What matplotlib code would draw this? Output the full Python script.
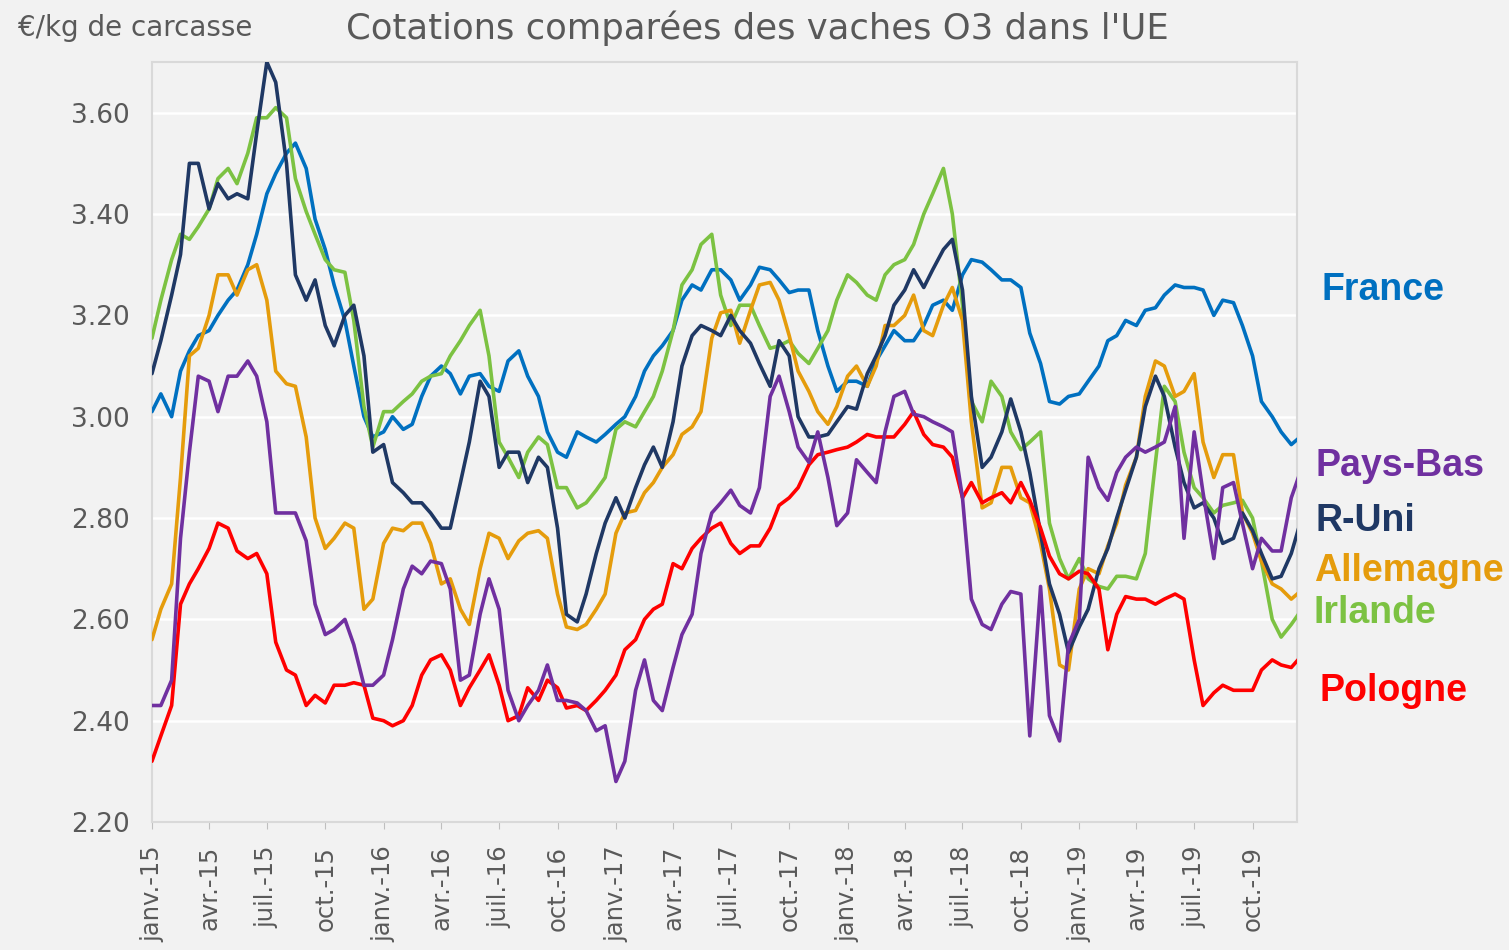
import matplotlib
matplotlib.use("Agg")
import matplotlib.pyplot as plt
import pandas as pd

# Semi-monthly observations, janv. 2015 -> déc. 2019 (EUR/kg carcasse)
dates = pd.date_range("2015-01-01", "2019-12-15", freq="SMS")

france = [3.01, 3.045, 3.00, 3.09, 3.13, 3.16, 3.17, 3.20, 3.23, 3.25, 3.30, 3.36,
          3.44, 3.48, 3.52, 3.54, 3.49, 3.39, 3.33, 3.26, 3.19, 3.10, 3.00, 2.96,
          2.97, 3.00, 2.975, 2.985, 3.04, 3.08, 3.10, 3.085, 3.045, 3.08, 3.085, 3.06,
          3.05, 3.11, 3.13, 3.08, 3.04, 2.97, 2.93, 2.92, 2.97, 2.96, 2.95, 2.965,
          2.985, 3.00, 3.04, 3.09, 3.12, 3.14, 3.17, 3.23, 3.26, 3.25, 3.29, 3.29,
          3.27, 3.23, 3.26, 3.295, 3.29, 3.27, 3.245, 3.25, 3.25, 3.17, 3.10, 3.05,
          3.07, 3.07, 3.06, 3.11, 3.14, 3.17, 3.15, 3.15, 3.18, 3.22, 3.23, 3.21,
          3.28, 3.31, 3.305, 3.29, 3.27, 3.27, 3.255, 3.165, 3.105, 3.03, 3.025, 3.04,
          3.045, 3.07, 3.10, 3.15, 3.16, 3.19, 3.18, 3.21, 3.215, 3.24, 3.26, 3.255,
          3.255, 3.25, 3.20, 3.23, 3.225, 3.18, 3.12, 3.03, 3.00, 2.97, 2.945, 2.96]

r_uni = [3.085, 3.15, 3.24, 3.32, 3.50, 3.50, 3.41, 3.46, 3.43, 3.44, 3.43, 3.56,
         3.70, 3.66, 3.50, 3.28, 3.23, 3.27, 3.18, 3.14, 3.20, 3.22, 3.12, 2.93,
         2.945, 2.87, 2.85, 2.83, 2.83, 2.81, 2.78, 2.78, 2.87, 2.95, 3.07, 3.04,
         2.90, 2.93, 2.93, 2.87, 2.92, 2.90, 2.78, 2.61, 2.595, 2.65, 2.73, 2.79,
         2.84, 2.80, 2.86, 2.905, 2.94, 2.90, 2.99, 3.10, 3.16, 3.18, 3.17, 3.16,
         3.20, 3.17, 3.145, 3.105, 3.06, 3.15, 3.12, 3.00, 2.96, 2.96, 2.965, 2.99,
         3.02, 3.015, 3.085, 3.12, 3.16, 3.22, 3.25, 3.29, 3.255, 3.29, 3.33, 3.35,
         3.25, 3.04, 2.90, 2.92, 2.97, 3.035, 2.97, 2.89, 2.77, 2.67, 2.61, 2.535,
         2.585, 2.62, 2.70, 2.74, 2.80, 2.855, 2.92, 3.02, 3.08, 3.04, 2.94, 2.87,
         2.82, 2.83, 2.80, 2.75, 2.76, 2.81, 2.775, 2.73, 2.68, 2.685, 2.73, 2.79]

irlande = [3.155, 3.23, 3.31, 3.36, 3.35, 3.375, 3.41, 3.47, 3.49, 3.46, 3.52, 3.59,
           3.59, 3.61, 3.59, 3.47, 3.405, 3.36, 3.31, 3.29, 3.285, 3.19, 3.02, 2.94,
           3.01, 3.01, 3.03, 3.045, 3.07, 3.08, 3.085, 3.12, 3.15, 3.18, 3.21, 3.12,
           2.95, 2.92, 2.88, 2.93, 2.96, 2.945, 2.86, 2.86, 2.82, 2.83, 2.855, 2.88,
           2.975, 2.99, 2.98, 3.01, 3.04, 3.09, 3.17, 3.26, 3.29, 3.34, 3.36, 3.24,
           3.18, 3.22, 3.22, 3.18, 3.135, 3.14, 3.15, 3.125, 3.105, 3.135, 3.17, 3.23,
           3.28, 3.265, 3.24, 3.23, 3.28, 3.30, 3.31, 3.34, 3.40, 3.44, 3.49, 3.40,
           3.22, 3.03, 2.99, 3.07, 3.04, 2.97, 2.935, 2.95, 2.97, 2.79, 2.72, 2.68,
           2.72, 2.68, 2.665, 2.66, 2.685, 2.685, 2.68, 2.73, 2.91, 3.06, 3.03, 2.93,
           2.86, 2.84, 2.81, 2.825, 2.83, 2.835, 2.80, 2.715, 2.60, 2.565, 2.59, 2.615]

allemagne = [2.56, 2.62, 2.67, 2.88, 3.12, 3.135, 3.20, 3.28, 3.28, 3.24, 3.29, 3.30,
             3.23, 3.09, 3.065, 3.06, 2.96, 2.80, 2.74, 2.76, 2.79, 2.78, 2.62, 2.64,
             2.75, 2.78, 2.775, 2.79, 2.79, 2.75, 2.67, 2.68, 2.62, 2.59, 2.70, 2.77,
             2.76, 2.72, 2.755, 2.77, 2.775, 2.76, 2.65, 2.585, 2.58, 2.59, 2.62, 2.65,
             2.77, 2.81, 2.815, 2.85, 2.87, 2.90, 2.925, 2.965, 2.98, 3.01, 3.155, 3.205,
             3.21, 3.145, 3.21, 3.26, 3.265, 3.23, 3.16, 3.09, 3.05, 3.01, 2.985, 3.02,
             3.08, 3.10, 3.06, 3.10, 3.18, 3.18, 3.20, 3.24, 3.17, 3.16, 3.22, 3.255,
             3.19, 2.99, 2.82, 2.83, 2.90, 2.90, 2.84, 2.83, 2.75, 2.66, 2.51, 2.50,
             2.66, 2.70, 2.69, 2.745, 2.79, 2.865, 2.92, 3.04, 3.11, 3.10, 3.04, 3.05,
             3.085, 2.95, 2.88, 2.925, 2.925, 2.81, 2.77, 2.715, 2.67, 2.66, 2.64, 2.655]

pays_bas = [2.43, 2.43, 2.48, 2.76, 2.93, 3.08, 3.07, 3.01, 3.08, 3.08, 3.11, 3.08,
            2.99, 2.81, 2.81, 2.81, 2.755, 2.63, 2.57, 2.58, 2.60, 2.55, 2.47, 2.47,
            2.49, 2.56, 2.66, 2.705, 2.69, 2.715, 2.71, 2.66, 2.48, 2.49, 2.61, 2.68,
            2.62, 2.46, 2.40, 2.43, 2.46, 2.51, 2.44, 2.44, 2.435, 2.42, 2.38, 2.39,
            2.28, 2.32, 2.46, 2.52, 2.44, 2.42, 2.505, 2.57, 2.61, 2.73, 2.81, 2.83,
            2.855, 2.825, 2.81, 2.86, 3.04, 3.08, 3.01, 2.94, 2.91, 2.97, 2.88, 2.785,
            2.81, 2.915, 2.89, 2.87, 2.97, 3.04, 3.05, 3.005, 3.00, 2.99, 2.98, 2.97,
            2.84, 2.64, 2.59, 2.58, 2.63, 2.655, 2.65, 2.37, 2.665, 2.41, 2.36, 2.55,
            2.60, 2.92, 2.86, 2.835, 2.89, 2.92, 2.94, 2.93, 2.94, 2.95, 3.02, 2.76,
            2.97, 2.85, 2.72, 2.86, 2.87, 2.79, 2.70, 2.76, 2.735, 2.735, 2.84, 2.89]

pologne = [2.32, 2.37, 2.43, 2.63, 2.67, 2.70, 2.74, 2.79, 2.78, 2.735, 2.72, 2.73,
           2.69, 2.555, 2.50, 2.49, 2.43, 2.45, 2.435, 2.47, 2.47, 2.475, 2.47, 2.405,
           2.40, 2.39, 2.40, 2.43, 2.49, 2.52, 2.53, 2.50, 2.43, 2.465, 2.50, 2.53,
           2.47, 2.40, 2.41, 2.465, 2.44, 2.48, 2.465, 2.425, 2.43, 2.42, 2.44, 2.46,
           2.49, 2.54, 2.56, 2.60, 2.62, 2.63, 2.71, 2.70, 2.74, 2.76, 2.78, 2.79,
           2.75, 2.73, 2.745, 2.745, 2.78, 2.825, 2.84, 2.86, 2.905, 2.925, 2.93, 2.935,
           2.94, 2.95, 2.965, 2.96, 2.96, 2.96, 2.985, 3.01, 2.965, 2.945, 2.94, 2.92,
           2.84, 2.87, 2.83, 2.84, 2.85, 2.83, 2.87, 2.835, 2.78, 2.725, 2.69, 2.68,
           2.695, 2.69, 2.66, 2.54, 2.61, 2.645, 2.64, 2.64, 2.63, 2.64, 2.65, 2.64,
           2.52, 2.43, 2.455, 2.47, 2.46, 2.46, 2.46, 2.50, 2.52, 2.51, 2.505, 2.525]

series_names = ["France", "Pays-Bas", "R-Uni", "Allemagne", "Irlande", "Pologne"]
series_values = [france, pays_bas, r_uni, allemagne, irlande, pologne]
series_colors = ["#0070C0", "#7030A0", "#1F3864", "#E59C0C", "#7CC242", "#FF0000"]

tick_dates = pd.date_range("2015-01-01", "2019-10-01", freq="QS")
tick_labels = ["janv.-15", "avr.-15", "juil.-15", "oct.-15",
               "janv.-16", "avr.-16", "juil.-16", "oct.-16",
               "janv.-17", "avr.-17", "juil.-17", "oct.-17",
               "janv.-18", "avr.-18", "juil.-18", "oct.-18",
               "janv.-19", "avr.-19", "juil.-19", "oct.-19"]
y_ticks = [2.20, 2.40, 2.60, 2.80, 3.00, 3.20, 3.40, 3.60]

bg = "#F2F2F2"
txt = "#595959"

fig = plt.figure(figsize=(15.09, 9.5), dpi=100, facecolor=bg)
ax = fig.add_axes([0.1007, 0.1347, 0.7588, 0.8000])
ax.set_facecolor(bg)

order = ["France", "Irlande", "Allemagne", "R-Uni", "Pologne", "Pays-Bas"]
for name in order:
    i = series_names.index(name)
    ax.plot(dates, series_values[i], color=series_colors[i], lw=2.6,
            solid_joinstyle="round", solid_capstyle="round", zorder=3)

ax.set_ylim(2.20, 3.70)
ax.set_xlim(pd.Timestamp("2015-01-01"), pd.Timestamp("2019-12-10"))
ax.set_yticks(y_ticks)
ax.set_yticklabels([f"{v:.2f}" for v in y_ticks])
ax.set_xticks(tick_dates)
ax.set_xticklabels(tick_labels, rotation=90, va="top", ha="center")
ax.tick_params(axis="y", length=0, labelsize=19, labelcolor=txt, pad=16)
ax.tick_params(axis="x", length=5, color="#BFBFBF", labelsize=17.5,
               labelcolor=txt, pad=12)

ax.grid(axis="y", color="white", lw=1.8, zorder=1)
ax.set_axisbelow(True)
for side in ["top", "right", "left", "bottom"]:
    ax.spines[side].set_color("#D9D9D9")
    ax.spines[side].set_linewidth(1.5)

fig.text(0.502, 0.970, "Cotations comparées des vaches O3 dans l'UE",
         ha="center", va="center", fontsize=25.5, color=txt)
fig.text(0.012, 0.970, "€/kg de carcasse", ha="left", va="center",
         fontsize=20, color=txt)

label_x = [1322, 1316, 1316, 1314, 1313, 1320]
label_y = [290, 466, 521, 571, 613, 691]
for name, col, lx, ly in zip(series_names, series_colors, label_x, label_y):
    fig.text(lx / 1509, 1 - ly / 950, name, ha="left", va="center",
             fontsize=27, fontweight="bold", color=col,
             family=["Liberation Sans", "DejaVu Sans"])

fig.savefig("out.png", dpi=100, facecolor=bg)
